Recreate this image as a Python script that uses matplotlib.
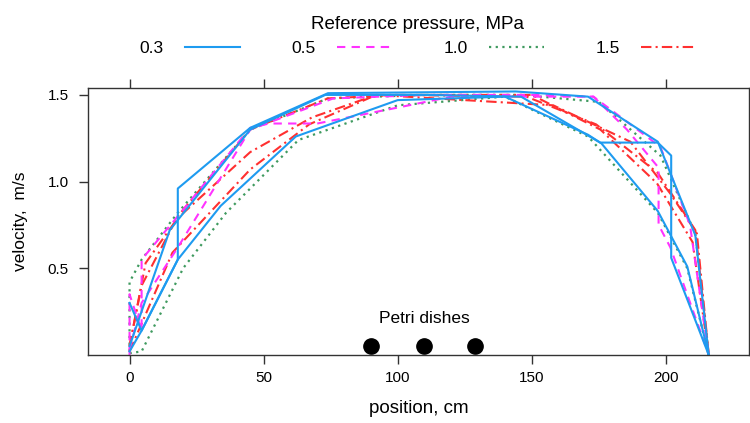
import numpy as np
import matplotlib.pyplot as plt
from matplotlib.lines import Line2D

plt.rcParams['font.family'] = ['Liberation Sans', 'DejaVu Sans']

# velocity profiles (position cm, velocity m/s), several traverses per pressure
p03_a_x = [0, 4.5, 18, 18, 45, 74, 144, 171, 197, 211, 216]
p03_a_v = [0.30, 0.14, 0.55, 0.96, 1.31, 1.51, 1.52, 1.49, 1.23, 0.69, 0]
p03_b_x = [0, 4.5, 18, 34, 62, 100, 140, 171, 176, 197, 208, 216]
p03_b_v = [0.02, 0.14, 0.55, 0.86, 1.26, 1.47, 1.49, 1.27, 1.22, 0.83, 0.51, 0]
p03_c_x = [0, 15, 45, 73, 110, 146, 175.5, 197, 202, 202, 216]
p03_c_v = [0.05, 0.72, 1.30, 1.50, 1.50, 1.49, 1.225, 1.225, 1.15, 0.56, 0]

p05_a_x = [0, 0, 4.5, 4.5, 18, 45, 52, 70, 101, 120, 173, 185.5, 197.3, 197.3, 201.7, 216]
p05_a_v = [0.0, 0.35, 0.14, 0.55, 0.80, 1.31, 1.335, 1.335, 1.43, 1.49, 1.49, 1.30, 1.08, 0.75, 0.62, 0]
p05_b_x = [0, 4.5, 18, 45, 76, 110, 150, 173, 198, 209, 216]
p05_b_v = [0.03, 0.30, 0.62, 1.30, 1.48, 1.50, 1.50, 1.49, 1.20, 0.75, 0]

p10_a_x = [0, 4.5, 20, 36, 63, 100, 140, 171, 197, 208, 216]
p10_a_v = [0.01, 0.02, 0.50, 0.82, 1.24, 1.44, 1.49, 1.26, 0.82, 0.50, 0]
p10_b_x = [0, 0, 4.5, 18, 45, 74, 110, 146, 175, 198, 211, 216]
p10_b_v = [0.02, 0.42, 0.55, 0.82, 1.30, 1.48, 1.50, 1.50, 1.46, 1.15, 0.70, 0]

p15_a_x = [0, 4.5, 18, 45, 74, 100, 148, 174, 197, 211, 216]
p15_a_v = [0.05, 0.40, 0.80, 1.30, 1.48, 1.50, 1.49, 1.33, 1.05, 0.72, 0]
p15_b_x = [0, 6, 18, 45, 68, 92, 150, 175.6, 196.7, 210, 216]
p15_b_v = [0.05, 0.53, 0.79, 1.17, 1.37, 1.50, 1.50, 1.30, 0.99, 0.65, 0]
p15_c_x = [0, 16, 45, 67, 92, 158, 186.8, 201.7, 211.6, 216]
p15_c_v = [0.02, 0.59, 1.07, 1.33, 1.50, 1.44, 1.23, 0.93, 0.70, 0]

dish_x = [90, 110, 129]
dish_v = [0.05, 0.05, 0.05]

pressures = ['0.3', '0.5', '1.0', '1.5']
colors = ['#1e9bf0', '#ff33ff', '#3f9a5f', '#ff3030']
styles = ['-', (0, (4, 3)), (0, (1, 2)), (0, (5, 2, 1, 2))]
widths = [1.5, 1.5, 1.6, 1.5]

groups = [
    [(p03_a_x, p03_a_v), (p03_b_x, p03_b_v), (p03_c_x, p03_c_v)],
    [(p05_a_x, p05_a_v), (p05_b_x, p05_b_v)],
    [(p10_a_x, p10_a_v), (p10_b_x, p10_b_v)],
    [(p15_a_x, p15_a_v), (p15_b_x, p15_b_v), (p15_c_x, p15_c_v)],
]

fig = plt.figure(figsize=(7.5, 4.23), dpi=100)
ax = fig.add_axes([0.1173, 0.161, 0.8813, 0.631])

for i in [2, 3, 1, 0]:
    for x, v in groups[i]:
        ax.plot(x, v, color=colors[i], linestyle=styles[i], lw=widths[i])

ax.plot(dish_x, dish_v, 'o', color='black', ms=11)
ax.text(110, 0.21, 'Petri dishes', ha='center', va='center', fontsize=12.5)

ax.set_xlim(-15.5, 231)
ax.set_ylim(0, 1.54)
ax.set_xticks([0, 50, 100, 150, 200])
ax.set_yticks([0.5, 1.0, 1.5])
ax.tick_params(direction='out', length=6.5, width=1, labelsize=11, color='#333333',
               top=True, right=True, labeltop=False, labelright=False)
ax.tick_params(axis='x', pad=5)
ax.tick_params(axis='y', pad=7.5)
for s in ax.spines.values():
    s.set_color('#333333')
    s.set_linewidth(1)
ax.set_xlabel('position, cm', fontsize=13.5, labelpad=11)
ax.set_ylabel('velocity,  m/s', fontsize=12.5, labelpad=14)

handles = [Line2D([], [], color=c, linestyle=s, lw=w) for c, s, w in zip(colors, styles, widths)]
leg = fig.legend(handles, pressures, loc='upper center', bbox_to_anchor=(0.557, 1.0),
                 ncol=4, frameon=False, markerfirst=False, handlelength=3.16,
                 columnspacing=3.0, handletextpad=1.2, fontsize=12.5,
                 title='Reference pressure, MPa', title_fontsize=13.5)

fig.savefig('out.png', dpi=100)
